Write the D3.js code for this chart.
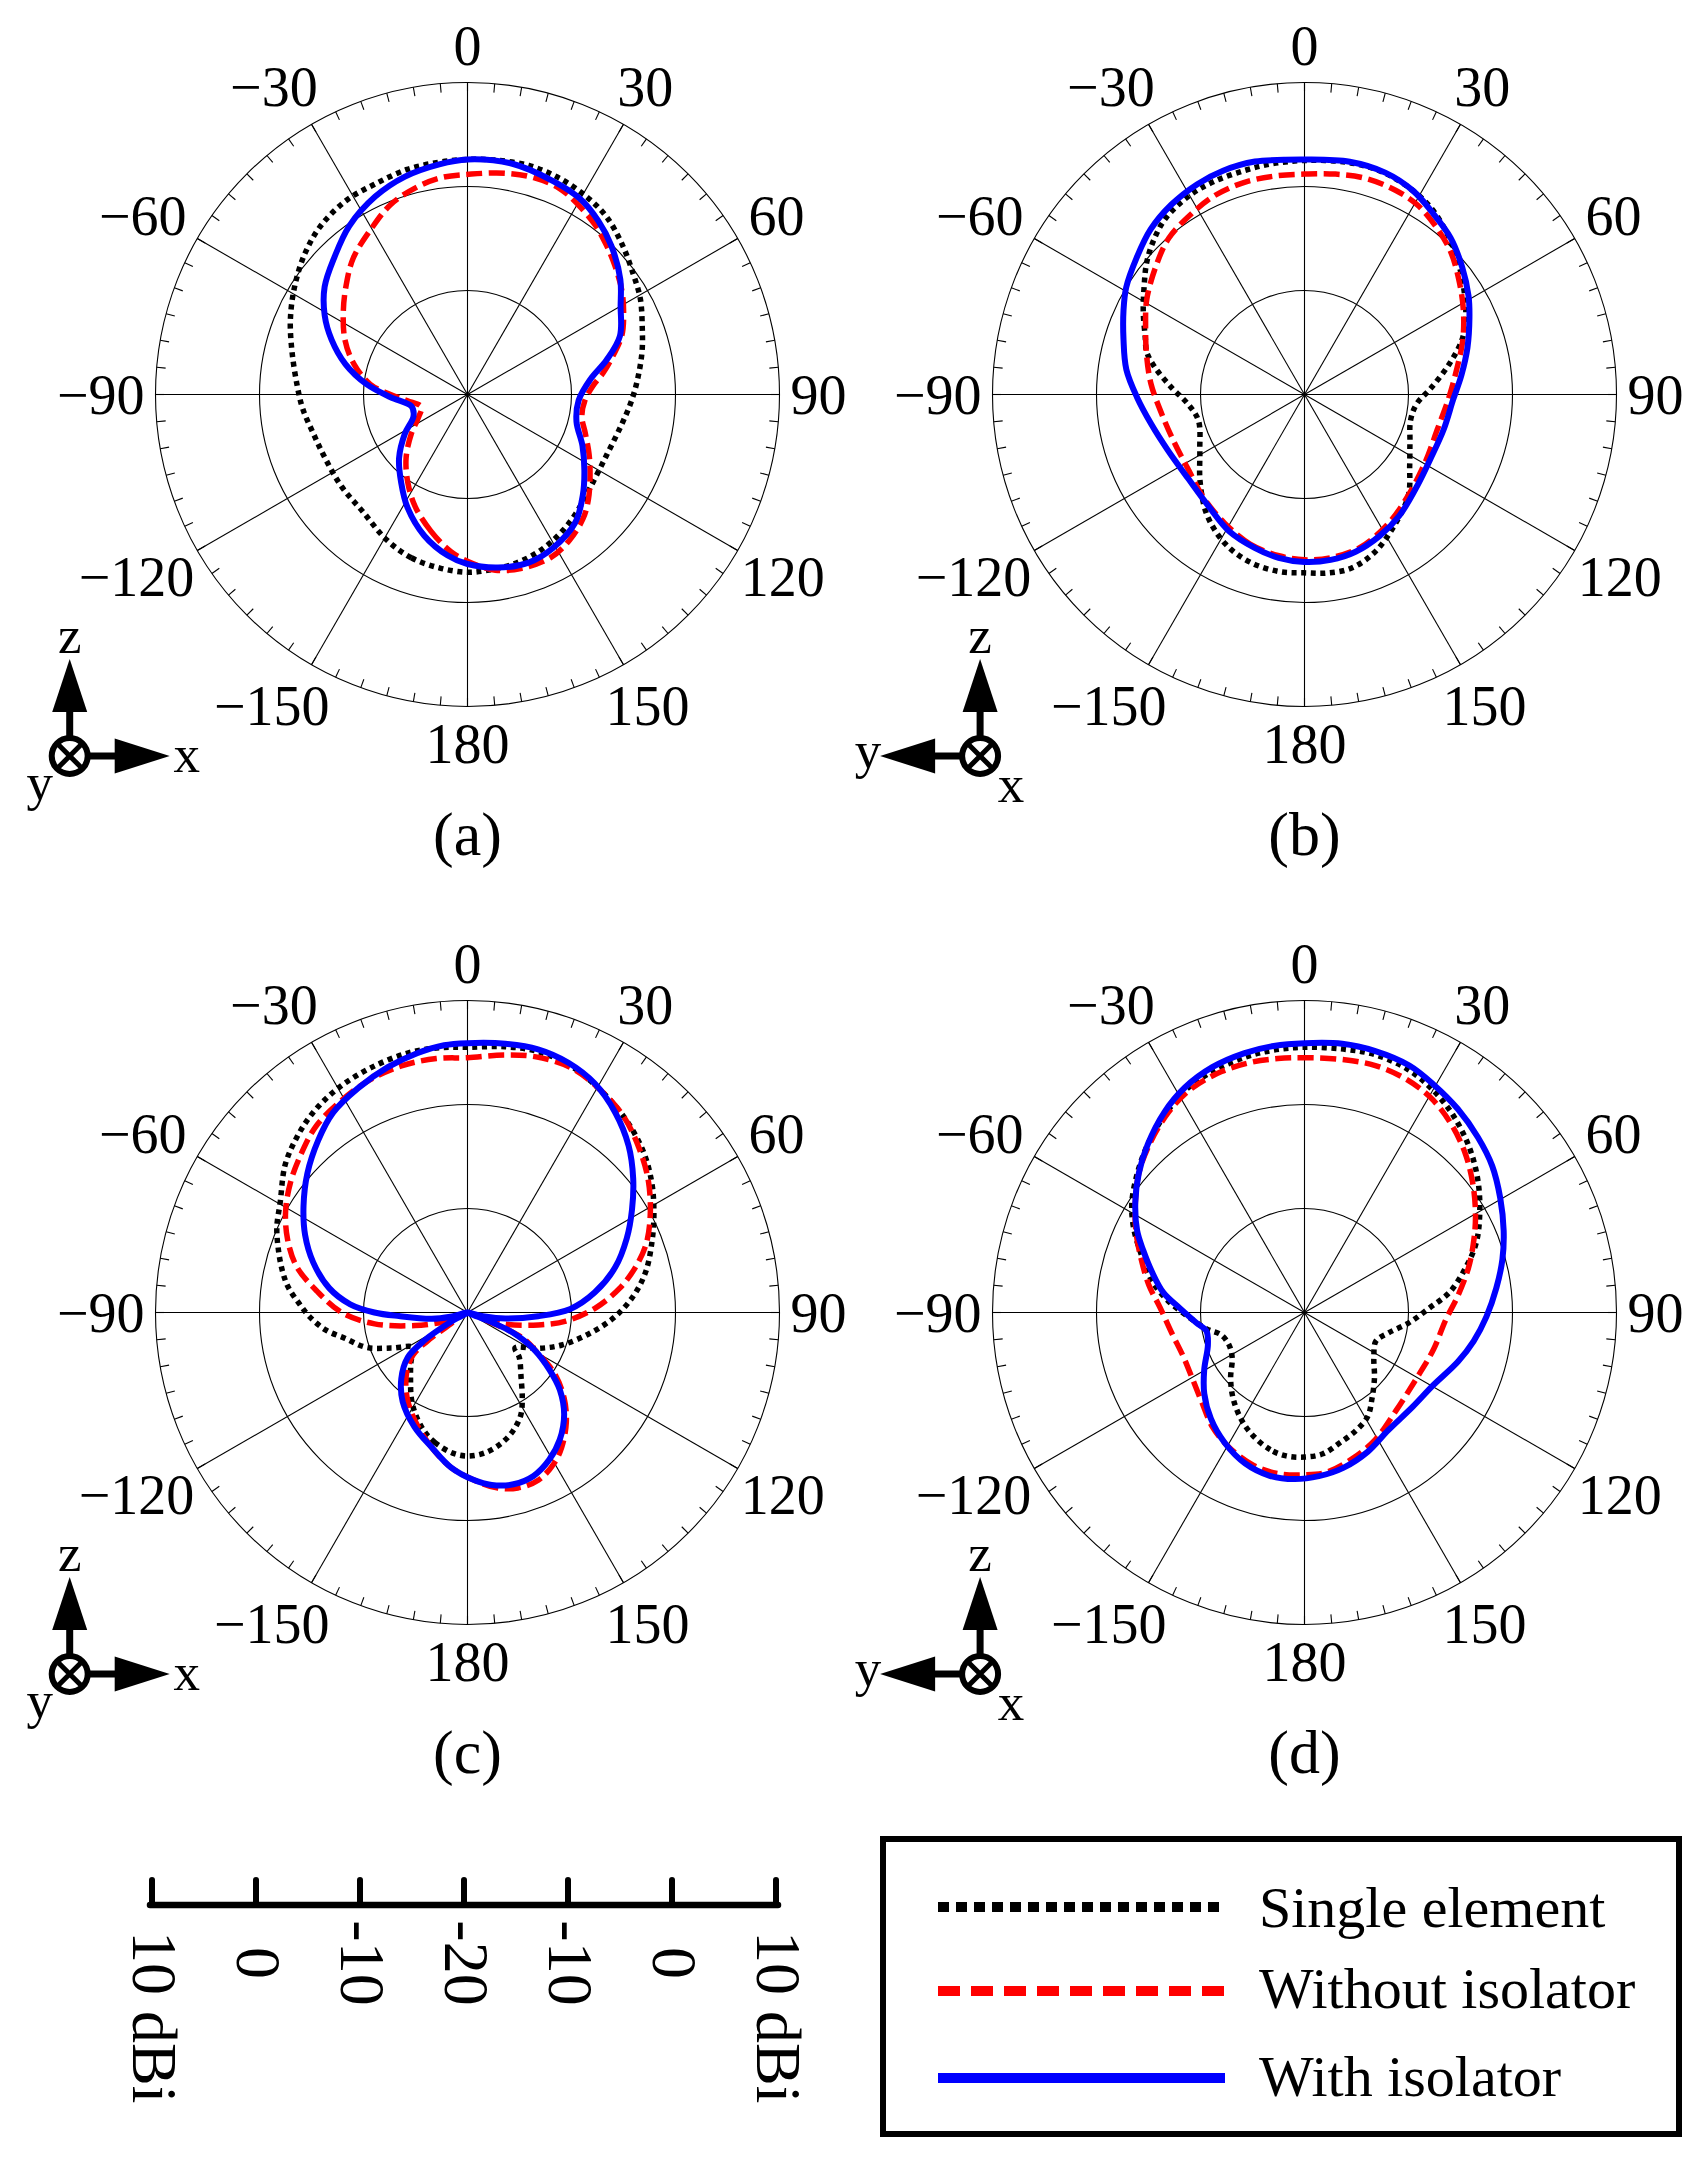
<!DOCTYPE html>
<html><head><meta charset="utf-8">
<script src="https://cdn.jsdelivr.net/npm/d3@7"></script>
<style>html,body{margin:0;padding:0;background:#fff}svg{display:block}</style>
</head><body>
<svg id="chart" width="1707" height="2165" xmlns="http://www.w3.org/2000/svg"></svg>
<script>
// ---------- data (angle in degrees, gain in dBi) ----------
const seriesNames = ["Single element", "Without isolator", "With isolator"];
const panelLetters = ["(a)", "(b)", "(c)", "(d)"];
const angleTicks = [0, 30, 60, 90, 120, 150, 180, -150, -120, -90, -60, -30];
const angleTickLabels = ["0", "30", "60", "90", "120", "150", "180", "\u2212150", "\u2212120", "\u221290", "\u221260", "\u221230"];
const scaleBarValues = [10, 0, -10, -20, -10, 0, 10];
const scaleBarLabels = ["10 dBi", "0", "-10", "-20", "-10", "0", "10 dBi"];

const singleA = [[-171,-3.1],[-161,-3.4],[-151,-4.0],[-138,-4.9],[-126,-5.0],[-114,-5.0],[-104,-4.7],[-95,-4.1],[-87,-3.6],[-76,-2.6],[-67,-1.5],[-58,-0.4],[-49,0.7],[-41,1.5],[-32,2.0],[-24,2.1],[-15,2.4],[-7,2.5],[0,2.6],[7,2.7],[15,2.8],[23,2.6],[31,2.2],[38,1.7],[46,0.7],[54,-0.3],[61,-1.0],[69,-2.0],[76,-2.7],[84,-3.5],[92,-4.2],[101,-4.9],[113,-5.4],[127,-5.2],[138,-4.5],[147,-3.9],[156,-3.4],[165,-3.1],[173,-3.0],[180,-2.9]];
const withoutA = [[-174,-4.8],[-165,-6.4],[-155,-8.1],[-146,-9.75],[-136,-11.5],[-125,-13.4],[-115,-14.8],[-105,-15.4],[-96,-14.2],[-90,-12.6],[-84,-10.6],[-75,-8.7],[-66,-7.1],[-56,-5.6],[-48,-4.3],[-40,-2.9],[-30,-1.55],[-22,-0.3],[-14,0.5],[-7,1.0],[1,1.2],[10,1.6],[17,1.8],[24,1.7],[30,1.15],[37,0.4],[43,-0.4],[49,-1.2],[56,-2.1],[62,-3.0],[69,-4.1],[75,-5.5],[81,-6.8],[86,-7.9],[93,-8.7],[101,-8.8],[108,-8.1],[116,-7.0],[123,-5.95],[131,-4.6],[137,-3.7],[145,-2.9],[153,-2.4],[163,-2.5],[171,-2.9],[178,-3.7]];
const withA = [[-173,-4.4],[-163,-5.8],[-152,-7.7],[-143,-9.4],[-133,-11.0],[-122,-12.9],[-112,-14.4],[-102,-14.5],[-92,-12.6],[-84,-10.2],[-76,-7.9],[-68,-5.9],[-61,-4.3],[-53,-2.8],[-44,-1.6],[-35,-0.2],[-25,1.0],[-16,1.8],[-7,2.3],[0,2.6],[11,2.6],[22,2.1],[30,1.7],[37,0.9],[44,-0.1],[53,-1.6],[60,-3.0],[69,-4.3],[76,-6.2],[83,-8.1],[93,-9.3],[104,-9.2],[114,-7.9],[123,-6.6],[131,-5.3],[140,-3.9],[151,-3.1],[160,-2.8],[170,-3.1],[180,-3.7]];

const singleB = [[-172,-2.8],[-162,-3.05],[-152,-3.75],[-141,-5.1],[-130,-6.9],[-118,-8.6],[-104,-9.5],[-95,-8.8],[-87,-7.2],[-80,-5.45],[-75,-4.3],[-70,-3.7],[-63,-2.6],[-56,-1.4],[-50,-0.2],[-44,0.8],[-38,1.6],[-30,2.1],[-23,2.25],[-15,2.3],[-8,2.4],[0,2.5],[10,2.7],[18,2.7],[25,2.4],[33,1.8],[40,0.9],[48,-0.3],[57,-1.7],[65,-2.9],[71,-4.0],[78,-5.75],[87,-7.8],[95,-9.2],[104,-9.5],[114,-8.9],[124,-7.8],[134,-6.1],[145,-4.8],[156,-3.4],[165,-2.7],[173,-2.7],[180,-2.85]];
const withoutB = [[-171,-4.3],[-160,-4.7],[-148,-5.45],[-136,-6.1],[-123,-6.7],[-110,-6.65],[-97,-6.1],[-86,-5.2],[-76,-4.35],[-67,-3.4],[-59,-2.3],[-49,-1.1],[-41,-0.1],[-32,0.5],[-24,1.0],[-16,1.2],[-8,1.2],[0,1.2],[8,1.4],[16,1.6],[24,1.5],[31,1.2],[39,0.4],[46,-0.4],[54,-1.6],[62,-2.7],[71,-3.9],[80,-5.1],[91,-6.1],[105,-6.8],[119,-6.7],[134,-6.1],[147,-5.2],[160,-4.35],[171,-4.1],[180,-4.1]];
const withB = [[-171,-4.1],[-162,-4.5],[-151,-5.0],[-140,-5.8],[-126,-6.2],[-112,-5.8],[-101,-5.0],[-91,-3.9],[-82,-2.7],[-73,-1.8],[-65,-0.8],[-59,0.0],[-51,0.8],[-43,1.7],[-35,2.3],[-27,2.7],[-20,2.9],[-12,2.9],[-5,2.65],[0,2.6],[11,2.8],[20,2.7],[28,2.2],[35,1.4],[43,0.6],[51,-0.5],[59,-1.6],[65,-2.5],[74,-3.7],[83,-4.8],[92,-5.7],[104,-6.2],[117,-6.4],[129,-6.05],[142,-5.2],[152,-4.6],[162,-4.1],[171,-3.9],[180,-3.9]];

const singleC = [[-174,-6.4],[-166,-7.1],[-160,-7.85],[-153,-9.0],[-147,-10.1],[-139,-11.65],[-131,-12.8],[-123,-13.8],[-115,-11.9],[-109,-9.7],[-102,-8.0],[-97,-6.25],[-91.5,-4.8],[-87,-3.8],[-82,-2.6],[-77.6,-1.8],[-72,-0.9],[-66,0.07],[-59.5,0.9],[-51,2.56],[-44,3.55],[-37.6,4.3],[-30,4.9],[-21.6,5.3],[-13,5.6],[-6,5.6],[0,5.5],[8,5.8],[15,6.0],[22.6,5.7],[30,5.0],[38.5,4.1],[47,3.0],[54.7,1.7],[62,0.3],[69,-1.0],[77,-2.4],[84,-3.9],[91.6,-5.8],[99.4,-8.0],[109,-10.4],[117,-12.4],[126.6,-14.3],[131,-13.4],[140.5,-11.9],[147.5,-10.2],[152.5,-8.9],[159,-7.8],[165.6,-7.0],[173,-6.4],[180,-6.2]];
const withoutC = [[-174,-5.0],[-165,-6.6],[-155,-8.3],[-145,-9.9],[-135,-11.7],[-128,-13.35],[-125.5,-15.3],[-120,-18.5],[-112,-17.5],[-104,-14.8],[-97,-11.0],[-90,-7.9],[-82,-5.4],[-75,-3.0],[-68,-1.35],[-61,0.0],[-53.5,1.15],[-46,2.15],[-39,3.1],[-31,3.7],[-23,4.25],[-15,4.55],[-7,4.6],[0,4.5],[8,5.0],[15,5.45],[23,5.55],[30,5.0],[38.5,4.1],[46.5,2.8],[54,1.5],[62,-0.1],[69,-1.6],[75,-3.3],[81,-5.2],[88,-7.7],[95,-10.5],[100,-13.1],[107,-16.2],[111,-18.5],[114.5,-14.3],[120,-12.2],[125,-9.8],[131.5,-7.6],[138,-5.8],[145,-4.2],[150,-3.3],[157,-2.5],[164,-2.45],[170.5,-2.9],[178,-3.9]];
const withC = [[-174,-5.0],[-165,-6.6],[-155,-7.9],[-144,-9.4],[-135,-11.0],[-127,-12.8],[-123,-15.0],[-119,-18.5],[-111,-20],[-104,-18.3],[-100,-16.5],[-93,-13.4],[-90,-11.05],[-86,-8.7],[-80,-6.5],[-72,-4.4],[-64.5,-2.7],[-57,-1.2],[-49,0.4],[-41,1.9],[-34,3.15],[-26,4.0],[-18,4.8],[-11,5.4],[-5,5.8],[0,5.9],[8,6.1],[15,6.2],[22,5.9],[29,5.2],[36.5,3.9],[44,2.3],[51,0.5],[58,-1.35],[65,-3.1],[73,-5.15],[81,-7.6],[88,-10.1],[93,-13.2],[99,-16.3],[103,-18.3],[108,-20],[112,-17.4],[114,-15.2],[119,-12.7],[125,-10.35],[130,-8.4],[136.5,-6.5],[144,-4.9],[151,-3.8],[158,-3.05],[165,-2.9],[172,-3.25],[178,-3.9]];

const singleD = [[-172.7,-6.1],[-166,-6.4],[-157,-7.2],[-149,-8.1],[-140,-9.3],[-131.6,-10.5],[-122,-11.8],[-113,-12.1],[-105,-11.7],[-99.5,-10.45],[-92,-8.8],[-85,-6.8],[-78,-4.95],[-70.7,-3.4],[-63.4,-1.6],[-57.4,-0.3],[-50.3,0.9],[-43,2.1],[-35.7,3.2],[-28.6,4.2],[-21,4.8],[-13,5.2],[-6.7,5.4],[0,5.5],[8.4,5.6],[15.5,5.7],[23,5.4],[30,4.7],[37.3,3.7],[45.4,2.35],[53,0.9],[60.8,-0.7],[68,-2.2],[74.4,-3.9],[82,-5.9],[88,-8.0],[95.6,-9.9],[103.7,-11.7],[111.8,-12.6],[123,-12.05],[133,-10.8],[141.8,-9.5],[148.7,-8.3],[156.7,-7.6],[165,-7.0],[172.6,-6.3],[180,-6.1]];
const withoutD = [[-170.7,-4.3],[-161.6,-4.5],[-150.7,-5.15],[-141,-5.9],[-131,-6.9],[-120,-7.5],[-110,-7.6],[-99,-7.1],[-88,-6.1],[-80,-4.8],[-72,-3.5],[-65,-2.15],[-58,-0.8],[-50,0.8],[-42,2.1],[-34,3.3],[-27,4.1],[-19,4.5],[-12,4.6],[-6,4.55],[0,4.5],[9,4.6],[16,4.7],[23,4.5],[30,4.0],[37,3.1],[45,1.8],[53,0.3],[61,-1.2],[68,-2.5],[75,-3.7],[84,-5.2],[93,-6.4],[106,-7.1],[120,-7.5],[137,-7.1],[151,-6.0],[162,-5.2],[172,-4.5],[180,-4.4]];
const withD = [[-176.5,-3.95],[-168,-3.95],[-158.6,-4.4],[-148.6,-5.3],[-138.5,-6.4],[-129,-7.6],[-119.7,-8.9],[-108.6,-10.2],[-100.6,-10.4],[-95.4,-9.55],[-88,-8.0],[-82,-6.3],[-75,-4.8],[-69,-3.4],[-64,-2.1],[-57,-0.6],[-50,0.8],[-43,2.1],[-35,3.5],[-28,4.5],[-20.6,5.2],[-13,5.6],[-6.6,5.8],[0,5.9],[8,6.1],[15,6.05],[23,5.8],[29.4,5.2],[37,4.5],[44.7,3.7],[52,2.9],[59.7,1.8],[67.7,0.7],[75,-0.3],[82.7,-1.4],[91.3,-2.5],[99.6,-3.5],[107.7,-4.5],[119.7,-5.8],[131,-6.2],[144.7,-6.1],[155.5,-5.3],[166,-4.6],[175,-4.2]];

// ---------- layout ----------
const FONT = "'Liberation Serif','Times New Roman',Times,serif";
const R = 312;
const centers = [[467.5, 394.5], [1304.5, 394.5], [467.5, 1312.5], [1304.5, 1312.5]];
const panelData = [[singleA, withoutA, withA], [singleB, withoutB, withB], [singleC, withoutC, withC], [singleD, withoutD, withD]];
const panelAxes = ["zx", "zy", "zx", "zy"];
const styles = [
  {color: "#000000", width: 5.5, dash: "5,4.6"},
  {color: "#ff0000", width: 5.5, dash: "16,6.5"},
  {color: "#0000ff", width: 6, dash: null}
];

const svg = d3.select("#chart");
svg.append("rect").attr("width", 1707).attr("height", 2165).attr("fill", "#fff");

const rScale = d3.scaleLinear().domain([-20, 10]).range([0, R]).clamp(true);
const toRad = d => d * Math.PI / 180;

const measure = svg.append("text").attr("font-family", FONT).attr("font-size", 56).attr("x", -1000).attr("y", -1000);
function textWidth(s, fs) { measure.attr("font-size", fs).text(s); return measure.node().getComputedTextLength(); }

panelData.forEach((series, pi) => {
  const [cx, cy] = centers[pi];
  const g = svg.append("g").attr("transform", `translate(${cx},${cy})`);

  // grid rings
  [-10, 0, 10].forEach(v => {
    g.append("circle").attr("r", rScale(v)).attr("fill", "none").attr("stroke", "#000").attr("stroke-width", 1.1);
  });
  // radial lines
  d3.range(0, 360, 30).forEach(a => {
    const t = toRad(a);
    g.append("line").attr("x1", 0).attr("y1", 0)
      .attr("x2", R * Math.sin(t)).attr("y2", -R * Math.cos(t))
      .attr("stroke", "#000").attr("stroke-width", 1.1);
  });
  // minor ticks every 5 degrees
  d3.range(0, 360, 5).forEach(a => {
    const t = toRad(a), r0 = R - 9;
    g.append("line")
      .attr("x1", r0 * Math.sin(t)).attr("y1", -r0 * Math.cos(t))
      .attr("x2", R * Math.sin(t)).attr("y2", -R * Math.cos(t))
      .attr("stroke", "#000").attr("stroke-width", 1.1);
  });

  // angle labels
  const fs = 56;
  angleTicks.forEach((a, i) => {
    const lab = angleTickLabels[i];
    const digits = lab.replace("\u2212", "");
    const w = textWidth(digits, fs);
    const wInk = digits.length > 2 ? w - 0.2 * fs : w;
    const h = 0.68 * fs;
    const t = toRad(a), s = Math.sin(t), c = Math.cos(t);
    const d = R + 11 + (wInk / 2) * Math.abs(s) + (h / 2) * Math.abs(c) + 7 * Math.pow(c, 8);
    const x = d * s, y = -d * c;
    g.append("text").attr("x", x + w / 2).attr("y", y + h / 2)
      .attr("text-anchor", "end").attr("font-family", FONT).attr("font-size", fs)
      .attr("fill", "#000").text(lab);
  });

  // curves
  const line = d3.lineRadial()
    .angle(d => toRad(d[0]))
    .radius(d => rScale(d[1]))
    .curve(d3.curveCatmullRomClosed.alpha(0.5));
  series.forEach((data, si) => {
    const st = styles[si];
    const p = g.append("path").attr("d", line(data)).attr("fill", "none")
      .attr("stroke", st.color).attr("stroke-width", st.width)
      .attr("stroke-linejoin", "round");
    if (st.dash) p.attr("stroke-dasharray", st.dash);
  });

  // sub-figure letter
  g.append("text").attr("x", 0).attr("y", 460).attr("text-anchor", "middle")
    .attr("font-family", FONT).attr("font-size", 62).text(panelLetters[pi]);

  // coordinate icon
  const right = panelAxes[pi] === "zx";
  const ox = right ? -397.8 : -324.4, oy = 361.5;
  const ic = g.append("g").attr("transform", `translate(${ox},${oy})`);
  ic.append("line").attr("x1", 0).attr("y1", -19).attr("x2", 0).attr("y2", -46).attr("stroke", "#000").attr("stroke-width", 7);
  ic.append("path").attr("d", "M-17.5,-44 L17.5,-44 L0,-97 Z").attr("fill", "#000");
  const sgn = right ? 1 : -1;
  ic.append("line").attr("x1", sgn * 19).attr("y1", 0).attr("x2", sgn * 47).attr("y2", 0).attr("stroke", "#000").attr("stroke-width", 7);
  ic.append("path").attr("d", `M${sgn * 45},-17.5 L${sgn * 45},17.5 L${sgn * 100},0 Z`).attr("fill", "#000");
  ic.append("circle").attr("r", 18).attr("fill", "#fff").attr("stroke", "#000").attr("stroke-width", 6);
  const k = 11;
  ic.append("path").attr("d", `M${-k},${-k}L${k},${k}M${-k},${k}L${k},${-k}`).attr("stroke", "#000").attr("stroke-width", 5);
  const fsi = 53;
  ic.append("text").attr("x", 0).attr("y", -103).attr("text-anchor", "middle").attr("font-family", FONT).attr("font-size", fsi).text("z");
  if (right) {
    ic.append("text").attr("x", 117).attr("y", 16).attr("text-anchor", "middle").attr("font-family", FONT).attr("font-size", fsi).text("x");
    ic.append("text").attr("x", -30).attr("y", 44).attr("text-anchor", "middle").attr("font-family", FONT).attr("font-size", fsi).text("y");
  } else {
    ic.append("text").attr("x", -112).attr("y", 12).attr("text-anchor", "middle").attr("font-family", FONT).attr("font-size", fsi).text("y");
    ic.append("text").attr("x", 31).attr("y", 46).attr("text-anchor", "middle").attr("font-family", FONT).attr("font-size", fsi).text("x");
  }
});

// ---------- radial scale bar ----------
const barCx = 464, barY = 1905;
const barX = (v, i) => barCx + (i < 3 ? -1 : 1) * rScale(v);
const bar = svg.append("g");
bar.append("line").attr("x1", barX(10, 0) - 2).attr("x2", barX(10, 6) + 2)
  .attr("y1", barY).attr("y2", barY).attr("stroke", "#000").attr("stroke-width", 6.5).attr("stroke-linecap", "round");
scaleBarValues.forEach((v, i) => {
  const x = barX(v, i);
  bar.append("line").attr("x1", x).attr("x2", x).attr("y1", barY).attr("y2", barY - 25)
    .attr("stroke", "#000").attr("stroke-width", 6).attr("stroke-linecap", "round");
  const lab = scaleBarLabels[i];
  const fsb = 64;
  let anchor = "middle", ty = 1963;
  if (lab.indexOf("dBi") >= 0) { anchor = "start"; ty = 1963 - textWidth("10", fsb) / 2; }
  bar.append("text").attr("transform", `translate(${x - 19},${ty}) rotate(90)`)
    .attr("text-anchor", anchor).attr("font-family", FONT).attr("font-size", fsb).text(lab);
});

// ---------- legend ----------
const leg = svg.append("g");
leg.append("rect").attr("x", 883).attr("y", 1839).attr("width", 796).attr("height", 295)
  .attr("fill", "#fff").attr("stroke", "#000").attr("stroke-width", 6);
const legY = [1907, 1991, 2078];
const legTextY = [1927, 2008, 2096];
const legDash = ["11,7", "22,11", null];
seriesNames.forEach((name, i) => {
  const l = leg.append("line").attr("x1", 938).attr("x2", 1225).attr("y1", legY[i]).attr("y2", legY[i])
    .attr("stroke", styles[i].color).attr("stroke-width", 10);
  if (legDash[i]) l.attr("stroke-dasharray", legDash[i]);
  leg.append("text").attr("x", 1259).attr("y", legTextY[i]).attr("font-family", FONT).attr("font-size", 58).text(name);
});
measure.remove();
</script>
</body></html>
